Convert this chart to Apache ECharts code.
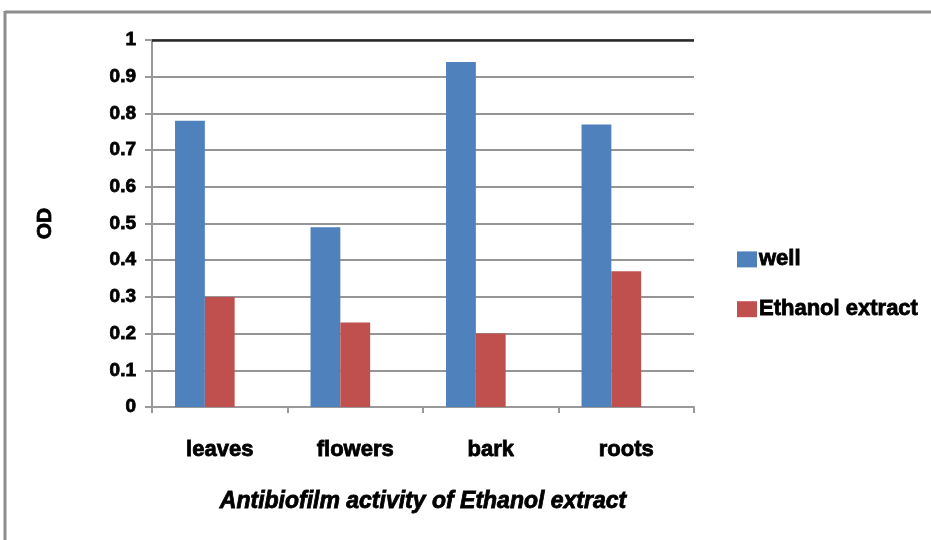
<!DOCTYPE html>
<html>
<head>
<meta charset="utf-8">
<script src="https://cdn.jsdelivr.net/npm/echarts@6/dist/echarts.min.js"></script>
<style>
  html, body { margin: 0; padding: 0; background: #fff; }
  #chart { width: 931px; height: 540px; }
</style>
</head>
<body>
<div id="chart"></div>
<script>
// Antibiofilm activity (OD) of well vs. ethanol extract per plant part
var categories = ['leaves', 'flowers', 'bark', 'roots'];
var wellValues = [0.78, 0.49, 0.94, 0.77];
var ethanolValues = [0.30, 0.23, 0.20, 0.37];
var yTicks = [0, 0.1, 0.2, 0.3, 0.4, 0.5, 0.6, 0.7, 0.8, 0.9, 1];

var FONT = '"Liberation Sans", Arial, sans-serif';
// heavy bold text style shared by all labels
function heavy(size, extra) {
  var s = {
    fontFamily: FONT, fontWeight: 'bold', fontSize: size, color: '#000',
    textBorderColor: '#000', textBorderWidth: 0.8
  };
  for (var k in extra) s[k] = extra[k];
  return s;
}

var chart = echarts.init(document.getElementById('chart'), null, { renderer: 'canvas' });

chart.setOption({
  backgroundColor: '#ffffff',
  animation: false,
  graphic: [
    // frame around the chart area
    { type: 'line', shape: { x1: 5, y1: 12, x2: 931, y2: 12 }, style: { stroke: '#8c8c8c', lineWidth: 3 } },
    { type: 'line', shape: { x1: 5, y1: 11, x2: 5, y2: 540 }, style: { stroke: '#8c8c8c', lineWidth: 3 } }
  ],
  grid: { left: 152, right: 237, top: 40, bottom: 133 },
  legend: {
    data: ['well', 'Ethanol extract'],
    orient: 'vertical',
    left: 732,
    top: 243,
    itemWidth: 20,
    itemHeight: 16,
    itemGap: 27,
    icon: 'rect',
    textStyle: heavy(22, { padding: [0, 0, 0, -3] })
  },
  xAxis: {
    type: 'category',
    data: categories,
    name: 'Antibiofilm activity of Ethanol extract',
    nameLocation: 'middle',
    nameGap: 83,
    nameTextStyle: heavy(23, { fontStyle: 'italic' }),
    axisLine: { lineStyle: { color: '#999', width: 2 } },
    axisTick: { show: true, length: 6, lineStyle: { color: '#999', width: 2 } },
    axisLabel: heavy(22, { margin: 32 })
  },
  yAxis: {
    type: 'value',
    min: yTicks[0],
    max: yTicks[yTicks.length - 1],
    interval: 0.1,
    name: 'OD',
    nameLocation: 'middle',
    nameGap: 96,
    nameRotate: 90,
    nameTextStyle: heavy(21),
    axisLine: { show: true, lineStyle: { color: '#999', width: 2 } },
    axisTick: { show: true, length: 7, lineStyle: { color: '#999', width: 2 } },
    axisLabel: heavy(19, {
      margin: 16,
      formatter: function (v) { return String(Math.round(v * 10) / 10); }
    }),
    splitLine: { lineStyle: { width: 2, color: '#959595' } }
  },
  series: [
    {
      name: 'well',
      type: 'bar',
      data: wellValues,
      barGap: '0%',
      barCategoryGap: '34%',
      itemStyle: { color: '#4F81BD' }
    },
    {
      name: 'Ethanol extract',
      type: 'bar',
      data: ethanolValues,
      itemStyle: { color: '#C0504D' }
    },
    {
      // empty third slot keeps the pair left of the category centre
      name: 'spacer',
      type: 'bar',
      data: [],
      silent: true
    },
    {
      // dark border line along the top of the plot at 1
      name: 'top',
      type: 'line',
      data: [],
      markLine: {
        silent: true,
        symbol: 'none',
        label: { show: false },
        lineStyle: { color: '#2a2a2a', width: 2.5, type: 'solid' },
        data: [{ yAxis: 1 }]
      }
    }
  ]
});
</script>
</body>
</html>
